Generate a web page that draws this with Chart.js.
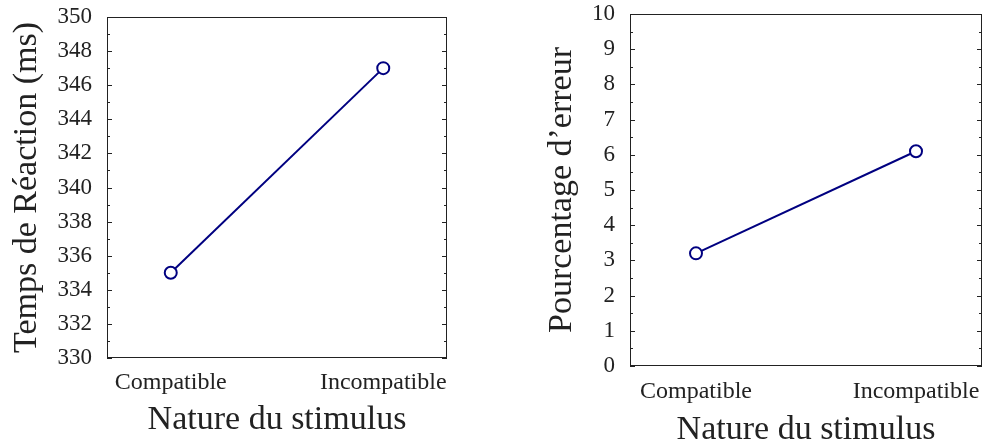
<!DOCTYPE html>
<html>
<head>
<meta charset="utf-8">
<script src="https://cdn.jsdelivr.net/npm/chart.js@4"></script>
<style>
  html, body { margin: 0; padding: 0; background: #fff; overflow: hidden; }
  .panel { position: absolute; top: 0; height: 444px; }
</style>
</head>
<body>
<div class="panel" style="left:0;width:460px"><canvas id="rtChart"></canvas></div>
<div class="panel" style="left:520px;width:470px"><canvas id="errChart"></canvas></div>
<script>
// data
const categories = ['Compatible', 'Incompatible'];
const reactionTimes = [335, 347];   // ms
const errorRates = [3.2, 6.1];      // %
const rtRange = [330, 350, 2];      // min, max, step
const errRange = [0, 10, 1];

const serif = "'Liberation Serif', 'DejaVu Serif', serif";
const ink = '#222';
const navy = '#000080';

// frame round the plot area + inward ticks (major and half-step minor) on both sides
const boxPlugin = {
  id: 'box',
  beforeDatasetsDraw(chart, args, opts) {
    const { ctx, chartArea: a } = chart;
    const y = chart.scales.y;
    const step = opts.step;
    ctx.save();
    ctx.strokeStyle = ink;
    ctx.lineWidth = 1;
    ctx.strokeRect(Math.round(a.left) + 0.5, Math.round(a.top) + 0.5,
      Math.round(a.right - a.left) - 1, Math.round(a.bottom - a.top) - 1);
    ctx.beginPath();
    for (let v = y.min; v <= y.max + 1e-9; v += step / 2) {
      const k = (v - y.min) / step;
      const major = Math.abs(k - Math.round(k)) < 1e-6;
      const len = major ? 5 : 3;
      const py = Math.round(y.getPixelForValue(v)) + 0.5;
      ctx.moveTo(a.left, py); ctx.lineTo(a.left + len, py);
      ctx.moveTo(a.right, py); ctx.lineTo(a.right - len, py);
    }
    ctx.stroke();
    ctx.restore();
  }
};

function makeChart(id, values, range, yTitle, dims) {
  const ctx = document.getElementById(id).getContext('2d');
  const points = categories.map((c, i) => ({ x: i, y: values[i] }));

  const config = {
    type: 'line',
    data: {
      datasets: [{
        data: points,
        borderColor: navy,
        borderWidth: 2,
        backgroundColor: '#fff',
        pointBackgroundColor: '#fff',
        pointBorderColor: navy,
        pointBorderWidth: 2,
        pointRadius: 6,
        tension: 0
      }]
    },
    options: {
      responsive: true,
      maintainAspectRatio: false,
      animation: false,
      layout: { padding: { top: dims.top, right: dims.right, left: 0, bottom: 0 } },
      plugins: {
        legend: { display: false },
        tooltip: { enabled: false },
        box: { step: range[2] }
      },
      scales: {
        x: {
          type: 'linear',
          min: -0.3,
          max: 1.3,
          grid: { display: false },
          border: { display: false },
          afterBuildTicks: (s) => { s.ticks = categories.map((c, i) => ({ value: i })); },
          afterFit: (s) => { s.height = dims.xh; s.paddingLeft = 0; s.paddingRight = 0; },
          ticks: {
            autoSkip: false,
            maxRotation: 0,
            padding: dims.xpad,
            color: ink,
            font: { family: serif, size: 24 },
            callback: (v) => categories[Math.round(v)]
          },
          title: {
            display: true,
            text: 'Nature du stimulus',
            color: ink,
            font: { family: serif, size: 34 },
            padding: { top: 0, bottom: dims.xtpad }
          }
        },
        y: {
          min: range[0],
          max: range[1],
          grid: { display: false },
          border: { display: false },
          afterFit: (s) => { s.width = dims.yw; s.paddingTop = 0; s.paddingBottom = 0; },
          ticks: {
            stepSize: range[2],
            padding: 7,
            color: ink,
            font: { family: serif, size: 23 }
          },
          title: {
            display: true,
            text: yTitle,
            color: ink,
            font: { family: serif, size: 34 },
            padding: { top: dims.ytpad, bottom: 0 }
          }
        }
      }
    },
    plugins: [boxPlugin]
  };
  return new Chart(ctx, config);
}

makeChart('rtChart', reactionTimes, rtRange, 'Temps de Réaction (ms)',
  { top: 17, right: 13, yw: 107, xh: 86, xpad: 2, xtpad: 4, ytpad: 7 });
makeChart('errChart', errorRates, errRange, "Pourcentage d’erreur",
  { top: 14, right: 0, yw: 110, xh: 78, xpad: 3, xtpad: -6, ytpad: 22 });
</script>
</body>
</html>
